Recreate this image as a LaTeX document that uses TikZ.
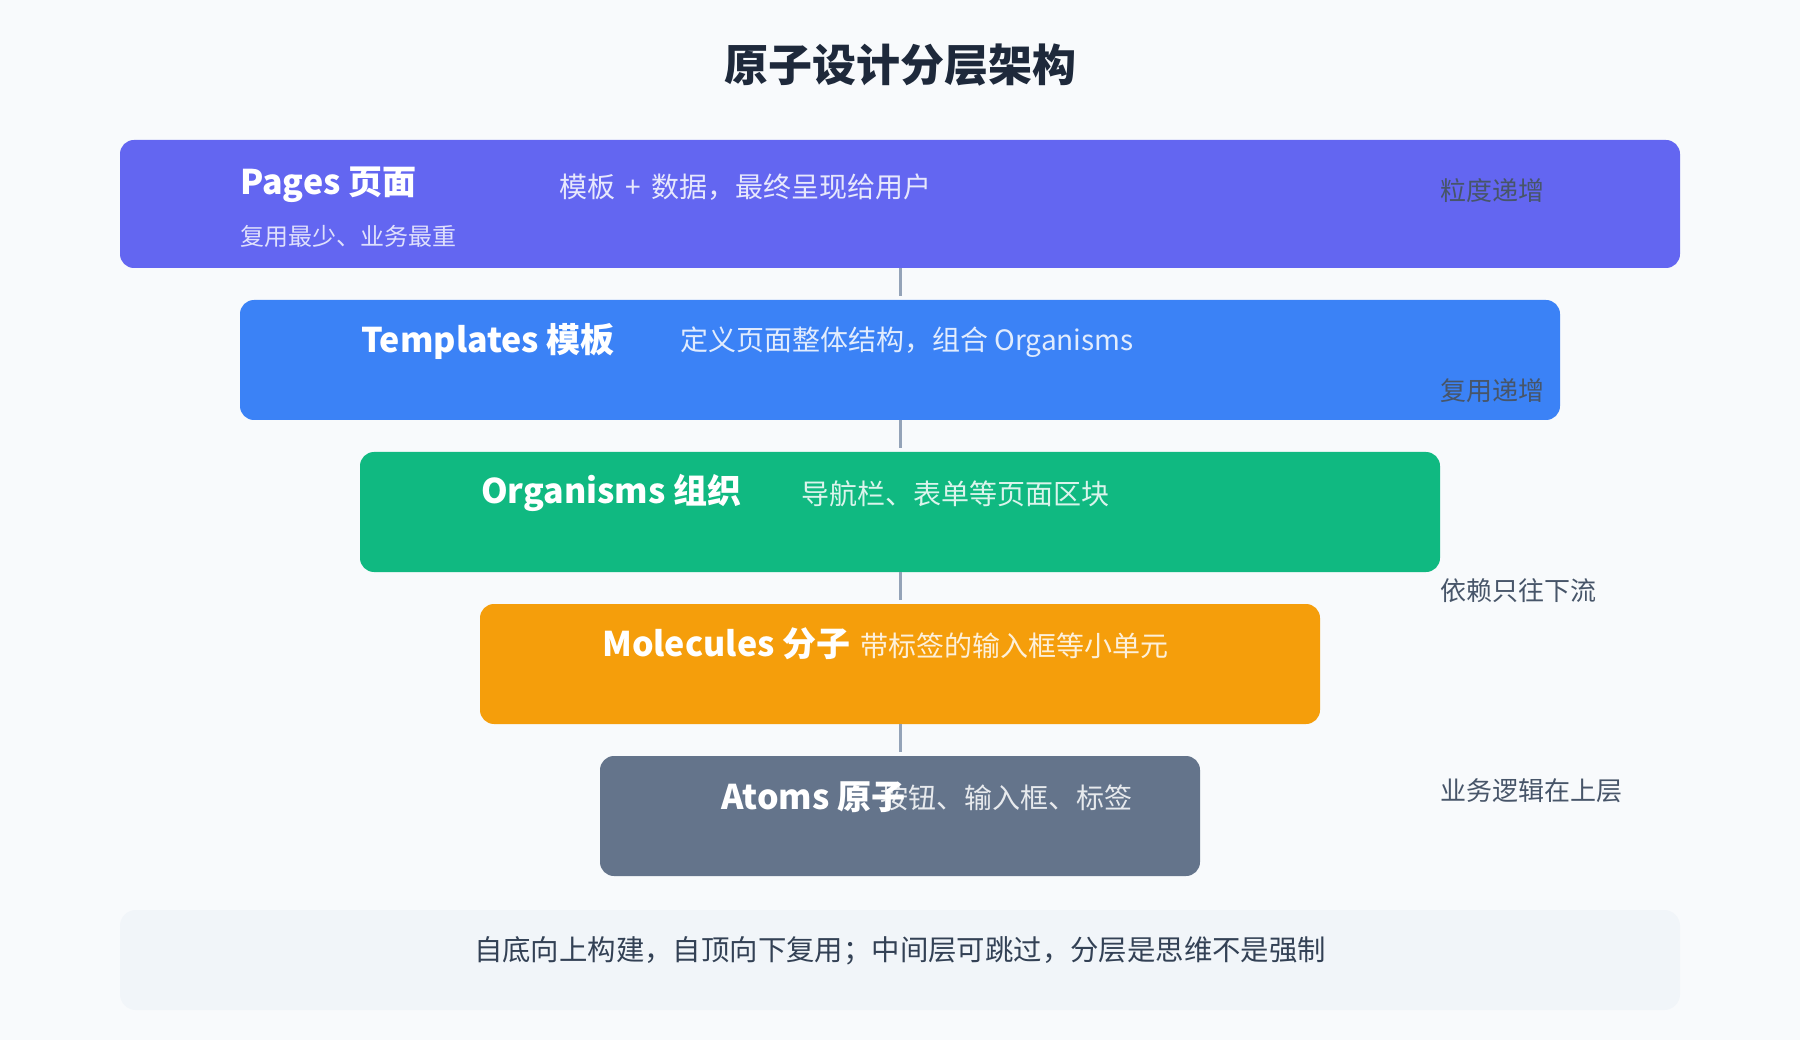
\documentclass[tikz,border=0pt]{standalone}
\usepackage{fontspec}
\setmainfont{Noto Sans CJK SC}
\definecolor{bgc}{HTML}{F8FAFC}
\definecolor{cPages}{HTML}{6366F1}
\definecolor{cTemplates}{HTML}{3B82F6}
\definecolor{cOrganisms}{HTML}{10B981}
\definecolor{cMolecules}{HTML}{F59E0B}
\definecolor{cAtoms}{HTML}{64748B}
\definecolor{linec}{HTML}{94A3B8}
\definecolor{footbg}{HTML}{F1F5F9}
\definecolor{titlec}{HTML}{1E293B}
\definecolor{notec}{HTML}{475569}
\definecolor{footc}{HTML}{334155}
\begin{document}
\begin{tikzpicture}[x=1pt,y=-1pt,
  layerbox/.style={rectangle, rounded corners=14pt, inner sep=0pt, outer sep=0pt, draw=none},
  lbl/.style={anchor=west, inner sep=0pt, text=white, font=\fontsize{34}{40}\selectfont\bfseries},
  desc/.style={anchor=west, inner sep=0pt, text=white, text opacity=0.85, font=\fontsize{28}{34}\selectfont},
  subnote/.style={anchor=west, inner sep=0pt, text=white, text opacity=0.8, font=\fontsize{24}{30}\selectfont},
  sidenote/.style={anchor=west, inner sep=0pt, text=notec, font=\fontsize{26}{32}\selectfont},
  conn/.style={draw=linec, line width=3pt}
]
\useasboundingbox[fill=bgc] (0,0) rectangle (1800,1040);

\node[inner sep=0pt, text=titlec, font=\fontsize{44}{52}\selectfont\bfseries] (title) at (900,65) {原子设计分层架构};

% layer boxes
\node[layerbox, fill=cPages, minimum width=1560pt, minimum height=128pt] (pages) at (900,204) {};
\node[layerbox, fill=cTemplates, minimum width=1320pt, minimum height=120pt] (templates) at (900,360) {};
\node[layerbox, fill=cOrganisms, minimum width=1080pt, minimum height=120pt] (organisms) at (900,512) {};
\node[layerbox, fill=cMolecules, minimum width=840pt, minimum height=120pt] (molecules) at (900,664) {};
\node[layerbox, fill=cAtoms, minimum width=600pt, minimum height=120pt] (atoms) at (900,816) {};

% connectors
\draw[conn] (pages.south) -- ([yshift=4pt]templates.north);
\draw[conn] (templates.south) -- ([yshift=4pt]organisms.north);
\draw[conn] (organisms.south) -- ([yshift=4pt]molecules.north);
\draw[conn] (molecules.south) -- ([yshift=4pt]atoms.north);

% texts
\node[lbl] (pagesl) at (240,185) {Pages 页面};
\node[desc] (pagesd) at (559,187) {模板\hspace{4pt} + \hspace{4pt}数据，最终呈现给用户};
\node[subnote] (pagess) at (240,236) {复用最少、业务最重};

\node[lbl] (templl) at (361,341) {Templates 模板};
\node[desc] (templd) at (680,342) {定义页面整体结构，组合 Organisms};

\node[lbl] (orgl) at (481,493) {Organisms 组织};
\node[desc] (orgd) at (801,494) {导航栏、表单等页面区块};

\node[lbl] (moll) at (602,644) {Molecules 分子};
\node[desc] (mold) at (860,646) {带标签的输入框等小单元};

\node[lbl] (atoml) at (721,797) {Atoms 原子};
\node[desc] (atomd) at (880,798) {按钮、输入框、标签};

% side notes
\node[sidenote] (n1) at (1440,191) {粒度递增};
\node[sidenote] (n2) at (1440,391) {复用递增};
\node[sidenote] (n3) at (1440,591) {依赖只往下流};
\node[sidenote] (n4) at (1440,791) {业务逻辑在上层};

% footer
\node[rectangle, rounded corners=16pt, fill=footbg, inner sep=0pt, minimum width=1560pt, minimum height=100pt] (foot) at (900,960) {};
\node[inner sep=0pt, text=footc, font=\fontsize{28.4}{34}\selectfont] (foott) at (900,950.5) {自底向上构建，自顶向下复用；中间层可跳过，分层是思维不是强制};
\end{tikzpicture}
\end{document}
